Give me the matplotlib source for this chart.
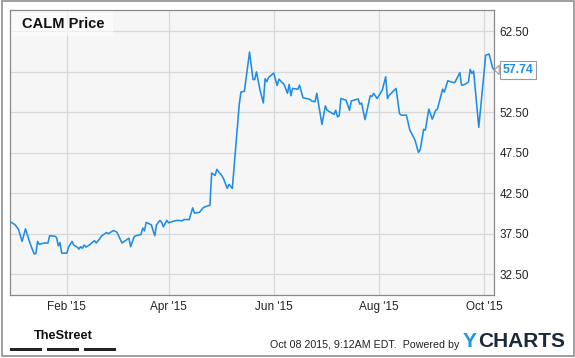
import pandas as pd
import matplotlib
matplotlib.use('Agg')
import matplotlib.pyplot as plt
import matplotlib.dates as mdates
import matplotlib.transforms as mtransforms
from matplotlib.patches import Rectangle

# CALM daily close
dates = [
    '2014-12-30', '2015-01-02', '2015-01-04', '2015-01-06', '2015-01-08', '2015-01-09',
    '2015-01-11', '2015-01-13', '2015-01-14', '2015-01-15', '2015-01-16', '2015-01-19',
    '2015-01-21', '2015-01-22', '2015-01-25', '2015-01-26', '2015-01-27', '2015-01-28',
    '2015-01-29', '2015-02-01', '2015-02-02', '2015-02-04', '2015-02-05', '2015-02-07',
    '2015-02-08', '2015-02-09', '2015-02-10', '2015-02-11', '2015-02-12', '2015-02-14',
    '2015-02-17', '2015-02-18', '2015-02-20', '2015-02-21', '2015-02-24', '2015-02-25',
    '2015-02-28', '2015-03-02', '2015-03-03', '2015-03-05', '2015-03-07', '2015-03-09',
    '2015-03-10', '2015-03-12', '2015-03-13', '2015-03-16', '2015-03-17', '2015-03-18',
    '2015-03-19', '2015-03-22', '2015-03-24', '2015-03-25', '2015-03-27', '2015-03-28',
    '2015-03-29', '2015-03-31', '2015-04-01', '2015-04-04', '2015-04-06', '2015-04-09',
    '2015-04-10', '2015-04-13', '2015-04-15', '2015-04-16', '2015-04-19', '2015-04-21',
    '2015-04-23', '2015-04-25', '2015-04-26', '2015-04-28', '2015-04-29', '2015-05-02',
    '2015-05-03', '2015-05-05', '2015-05-06', '2015-05-08', '2015-05-12', '2015-05-13',
    '2015-05-15', '2015-05-16', '2015-05-18', '2015-05-20', '2015-05-21', '2015-05-22',
    '2015-05-24', '2015-05-26', '2015-05-27', '2015-05-28', '2015-05-29', '2015-06-01',
    '2015-06-03', '2015-06-04', '2015-06-07', '2015-06-09', '2015-06-10', '2015-06-11',
    '2015-06-12', '2015-06-15', '2015-06-16', '2015-06-18', '2015-06-22', '2015-06-23',
    '2015-06-25', '2015-06-26', '2015-06-29', '2015-07-01', '2015-07-02', '2015-07-06',
    '2015-07-07', '2015-07-08', '2015-07-09', '2015-07-10', '2015-07-13', '2015-07-15',
    '2015-07-16', '2015-07-20', '2015-07-21', '2015-07-22', '2015-07-24', '2015-07-27',
    '2015-07-28', '2015-07-29', '2015-07-31', '2015-08-03', '2015-08-05', '2015-08-06',
    '2015-08-07', '2015-08-11', '2015-08-13', '2015-08-14', '2015-08-17', '2015-08-19',
    '2015-08-20', '2015-08-22', '2015-08-24', '2015-08-25', '2015-08-27', '2015-08-28',
    '2015-08-30', '2015-09-01', '2015-09-03', '2015-09-04', '2015-09-07', '2015-09-08',
    '2015-09-10', '2015-09-12', '2015-09-14', '2015-09-17', '2015-09-18', '2015-09-20',
    '2015-09-22', '2015-09-23', '2015-09-24', '2015-09-25', '2015-09-28', '2015-10-02',
    '2015-10-04', '2015-10-06', '2015-10-07',
]
prices = [
    39.0, 38.6, 38.0, 36.55, 38.1, 37.4,
    36.1, 35.0, 35.05, 36.55, 36.2, 36.35,
    36.35, 37.25, 37.2, 37.05, 36.0, 36.4,
    35.1, 35.1, 35.85, 36.55, 36.1, 35.85,
    35.6, 35.9, 35.7, 36.1, 35.85, 36.1,
    36.65, 36.35, 36.85, 37.2, 37.65, 37.5,
    37.9, 37.7, 37.25, 36.35, 36.65, 36.95,
    35.9, 37.1, 37.25, 37.4, 38.2, 37.85,
    38.9, 38.6, 37.25, 38.6, 39.15, 38.9,
    38.35, 39.15, 38.85, 39.05, 39.15, 39.1,
    39.25, 39.25, 40.7, 40.05, 40.15, 40.7,
    40.9, 41.0, 45.0, 44.7, 45.45, 44.65,
    44.25, 43.1, 43.6, 43.1, 53.45, 55.0,
    55.1, 56.75, 59.95, 56.55, 56.55, 57.5,
    55.3, 53.65, 56.65, 56.3, 56.8, 57.35,
    55.8, 56.6, 55.95, 54.85, 55.95, 54.55,
    55.45, 55.35, 55.85, 54.3, 54.1, 53.9,
    53.8, 54.85, 51.0, 53.3, 52.75, 52.25,
    52.75, 51.95, 52.05, 54.2, 54.0, 52.75,
    53.9, 54.15, 53.5, 53.65, 51.6, 54.55,
    54.45, 54.85, 54.2, 55.25, 56.9, 54.2,
    54.6, 55.45, 52.35, 52.15, 52.15, 50.3,
    49.9, 49.05, 47.55, 47.85, 50.4, 50.3,
    52.9, 51.65, 52.75, 52.9, 55.35, 55.0,
    56.4, 56.25, 56.15, 57.4, 55.85, 55.95,
    56.25, 57.8, 57.3, 57.6, 50.65, 59.55,
    59.7, 58.0, 57.74,
]
y_ticks = [32.5, 37.5, 42.5, 47.5, 52.5, 57.5, 62.5]
title = 'CALM Price'
stamp = 'Oct 08 2015, 9:12AM EDT.  Powered by'

line_color = '#1e8de6'
plt.rcParams['font.family'] = ['Liberation Sans', 'DejaVu Sans']

dates = pd.to_datetime(dates)

fig = plt.figure(figsize=(5.75, 3.58), dpi=100)
fig.patch.set_facecolor('white')
ax = fig.add_axes([10 / 575, 63 / 358, 484.3 / 575, 285 / 358])
ax.set_facecolor('#f6f6f6')

ax.plot(dates, prices, color=line_color, lw=1.15, zorder=3)

ax.set_xlim(dates[0], dates[-1])
ax.set_ylim(29.93, 65.14)
ax.set_yticks(y_ticks)
ax.yaxis.set_major_formatter(plt.FormatStrFormatter('%.2f'))
ax.xaxis.set_major_locator(mdates.MonthLocator(bymonth=[2, 4, 6, 8, 10]))
ax.xaxis.set_major_formatter(mdates.DateFormatter("%b '%y"))
ax.yaxis.tick_right()
ax.tick_params(axis='both', length=0, labelsize=8.5, colors='#222222')
ax.tick_params(axis='y', pad=4)
ax.tick_params(axis='x', pad=4)
ax.grid(True, color='#d8d8d8', lw=0.9)
ax.set_axisbelow(True)
for s in ax.spines.values():
    s.set_color('#8a8a8a')
    s.set_linewidth(0.9)

# the last-value flag covers the nearest tick label
for tick, loc in zip(ax.yaxis.get_major_ticks(), y_ticks):
    if abs(loc - prices[-1]) < 2:
        tick.label2.set_visible(False)

# title box in the top-left corner
ax.add_patch(Rectangle((0, 1 - 26 / 285), 103 / 484.3, 26 / 285, transform=ax.transAxes,
                       facecolor='white', alpha=0.55, edgecolor='none', zorder=2))
ax.text(12 / 484.3, 1 - 14 / 285, title, transform=ax.transAxes, fontsize=10.5,
        fontweight='bold', color='#111111', va='center', ha='left', zorder=4)

# last value flag on the right axis
trans = mtransforms.blended_transform_factory(ax.transAxes, ax.transData)
ax.annotate(f'{prices[-1]:.2f}', xy=(1, prices[-1]), xycoords=trans,
            xytext=(6, 0), textcoords='offset points', ha='left', va='center',
            fontsize=8.8, fontweight='bold', color=line_color, annotation_clip=False,
            bbox=dict(boxstyle='square,pad=0.25', fc='white', ec='#9a9a9a', lw=0.8),
            arrowprops=dict(arrowstyle='wedge,tail_width=0.75', fc='white', ec='#9a9a9a',
                            lw=0.8, shrinkA=0, shrinkB=0))

# footer
fig.text(63.5 / 575, 1 - 336 / 358, 'TheStreet', ha='center', va='center', fontsize=9.2,
         fontweight='bold', color='#111111')
for x0, x1 in [(10, 42), (47, 79), (84, 116)]:
    fig.patches.append(Rectangle((x0 / 575, 1 - 350.5 / 358), (x1 - x0) / 575, 3 / 358,
                                 transform=fig.transFigure, facecolor='#222222',
                                 edgecolor='none'))
fig.text(269.5 / 575, 1 - 344.5 / 358, stamp, ha='left', va='center', fontsize=7.7,
         color='#222222')
fig.text(463 / 575, 1 - 341.5 / 358, 'Y', ha='left', va='center', fontsize=15,
         fontweight='bold', color='#1b96e0')
fig.text(478.5 / 575, 1 - 341.5 / 358, 'CHARTS', ha='left', va='center', fontsize=15,
         fontweight='bold', color='#1c2a3a')

# outer frame
fig.patches.append(Rectangle((1.5 / 575, 2 / 358), 572 / 575, 355 / 358,
                             transform=fig.transFigure, facecolor='none',
                             edgecolor='#8f8f8f', lw=1.2))

fig.savefig('out.png', dpi=100)
